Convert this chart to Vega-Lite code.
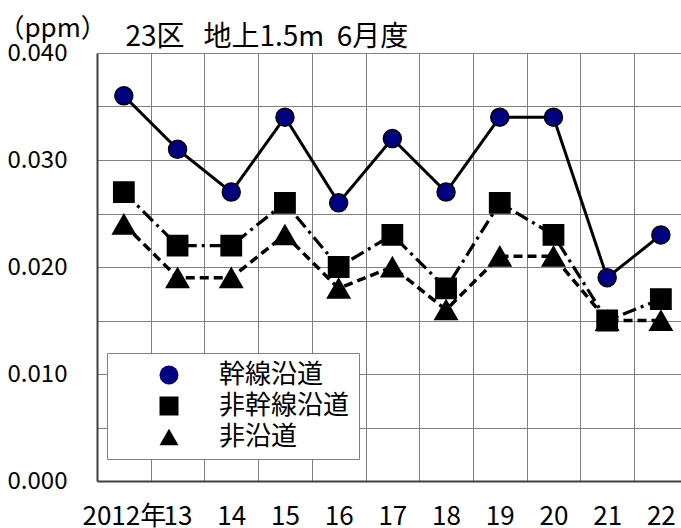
{
  "$schema": "https://vega.github.io/schema/vega-lite/v6.json",
  "width": 584,
  "height": 428,
  "autosize": {"type": "none"},
  "padding": {"left": 97, "top": 53, "right": 0, "bottom": 47},
  "background": "white",
  "config": {
    "font": "Noto Sans CJK JP",
    "view": {"stroke": null},
    "axis": {"labelFont": "Noto Sans CJK JP", "labelColor": "black", "titleColor": "black"}
  },
  "data": {
    "values": [
      {"year": 2012, "series": "幹線沿道", "value": 0.036},
      {"year": 2013, "series": "幹線沿道", "value": 0.031},
      {"year": 2014, "series": "幹線沿道", "value": 0.027},
      {"year": 2015, "series": "幹線沿道", "value": 0.034},
      {"year": 2016, "series": "幹線沿道", "value": 0.026},
      {"year": 2017, "series": "幹線沿道", "value": 0.032},
      {"year": 2018, "series": "幹線沿道", "value": 0.027},
      {"year": 2019, "series": "幹線沿道", "value": 0.034},
      {"year": 2020, "series": "幹線沿道", "value": 0.034},
      {"year": 2021, "series": "幹線沿道", "value": 0.019},
      {"year": 2022, "series": "幹線沿道", "value": 0.023},
      {"year": 2012, "series": "非幹線沿道", "value": 0.027},
      {"year": 2013, "series": "非幹線沿道", "value": 0.022},
      {"year": 2014, "series": "非幹線沿道", "value": 0.022},
      {"year": 2015, "series": "非幹線沿道", "value": 0.026},
      {"year": 2016, "series": "非幹線沿道", "value": 0.020},
      {"year": 2017, "series": "非幹線沿道", "value": 0.023},
      {"year": 2018, "series": "非幹線沿道", "value": 0.018},
      {"year": 2019, "series": "非幹線沿道", "value": 0.026},
      {"year": 2020, "series": "非幹線沿道", "value": 0.023},
      {"year": 2021, "series": "非幹線沿道", "value": 0.015},
      {"year": 2022, "series": "非幹線沿道", "value": 0.017},
      {"year": 2012, "series": "非沿道", "value": 0.024},
      {"year": 2013, "series": "非沿道", "value": 0.019},
      {"year": 2014, "series": "非沿道", "value": 0.019},
      {"year": 2015, "series": "非沿道", "value": 0.023},
      {"year": 2016, "series": "非沿道", "value": 0.018},
      {"year": 2017, "series": "非沿道", "value": 0.020},
      {"year": 2018, "series": "非沿道", "value": 0.016},
      {"year": 2019, "series": "非沿道", "value": 0.021},
      {"year": 2020, "series": "非沿道", "value": 0.021},
      {"year": 2021, "series": "非沿道", "value": 0.015},
      {"year": 2022, "series": "非沿道", "value": 0.015}
    ]
  },
  "resolve": {"axis": {"x": "independent"}},
  "layer": [
    {
      "mark": {"type": "line", "color": "black"},
      "encoding": {
        "x": {
          "field": "year", "type": "quantitative",
          "scale": {"domain": [2011.5, 2022.375], "nice": false, "zero": false},
          "axis": {
            "orient": "top",
            "title": "23区\u00a0\u00a0\u00a0地上1.5m\u00a0\u00a06月度",
            "titleX": 28, "titleY": -8, "titleAlign": "left", "titleAnchor": "start",
            "titleBaseline": "alphabetic", "titleFontSize": 28, "titleFontWeight": "normal",
            "titleFont": "Noto Sans CJK JP",
            "values": [2011.5, 2012.5, 2013.5, 2014.5, 2015.5, 2016.5, 2017.5, 2018.5, 2019.5, 2020.5, 2021.5],
            "grid": true, "gridColor": "#808080", "gridWidth": 1, "gridOpacity": 1,
            "labels": false, "ticks": false, "domain": false
          }
        },
        "y": {
          "field": "value", "type": "quantitative",
          "scale": {"domain": [0, 0.04], "nice": false, "zero": true},
          "axis": {
            "values": [0, 0.005, 0.01, 0.015, 0.02, 0.025, 0.03, 0.035, 0.04],
            "labelExpr": "abs(round(datum.value*200) % 2) == 0 ? format(datum.value, '.3f') : ''",
            "grid": true, "gridColor": "#808080", "gridWidth": 1, "gridOpacity": 1,
            "ticks": false,
            "domain": true, "domainColor": "#404040", "domainWidth": 2,
            "labelFontSize": 24, "labelPadding": 30, "labelAlign": "right", "labelBaseline": "middle",
            "title": "（ppm）", "titleAngle": 0, "titleX": -99, "titleY": -25,
            "titleAlign": "left", "titleBaseline": "middle",
            "titleFontSize": 26, "titleFontWeight": "normal", "titleFont": "Noto Sans CJK JP"
          }
        },
        "detail": {"field": "series"},
        "strokeDash": {
          "field": "series", "type": "nominal",
          "scale": {"domain": ["非沿道", "非幹線沿道", "幹線沿道"], "range": [[9, 5], [14, 5, 3, 5], [1, 0]]},
          "legend": null
        },
        "strokeWidth": {
          "field": "series", "type": "nominal",
          "scale": {"domain": ["非沿道", "非幹線沿道", "幹線沿道"], "range": [3.5, 3, 2]},
          "legend": null
        }
      }
    },
    {
      "mark": {"type": "point", "filled": true, "stroke": "black", "strokeWidth": 1.5, "opacity": 1},
      "encoding": {
        "x": {
          "field": "year", "type": "quantitative",
          "axis": {
            "orient": "bottom", "title": null,
            "values": [2012, 2013, 2014, 2015, 2016, 2017, 2018, 2019, 2020, 2021, 2022],
            "labelExpr": "datum.value == 2012 ? '2012年' : format(datum.value % 100, 'd')",
            "grid": false, "ticks": false,
            "domain": true, "domainColor": "#404040", "domainWidth": 2,
            "labelFontSize": 26, "labelPadding": 22, "labelBaseline": "top", "labelOverlap": false,
            "labelFlush": false
          }
        },
        "y": {"field": "value", "type": "quantitative"},
        "shape": {
          "field": "series", "type": "nominal",
          "scale": {"domain": ["幹線沿道", "非幹線沿道", "非沿道"], "range": ["circle", "square", "triangle-up"]},
          "legend": {
            "orient": "none", "legendX": 10, "legendY": 300,
            "title": null,
            "fillColor": "white", "strokeColor": "#808080",
            "padding": 9, "cornerRadius": 0,
            "symbolSize": 361, "symbolOffset": 40, "symbolStrokeColor": "#000000", "symbolStrokeWidth": 1.5,
            "symbolOpacity": 1,
            "labelFontSize": 26, "labelColor": "black", "labelFont": "Noto Sans CJK JP",
            "labelOffset": 37, "rowPadding": 5, "labelLimit": 300
          }
        },
        "fill": {
          "field": "series", "type": "nominal",
          "scale": {"domain": ["幹線沿道", "非幹線沿道", "非沿道"], "range": ["#000080", "#000000", "#000000"]},
          "legend": {
            "orient": "none", "legendX": 10, "legendY": 300,
            "title": null,
            "fillColor": "white", "strokeColor": "#808080",
            "padding": 9, "cornerRadius": 0,
            "symbolSize": 361, "symbolOffset": 40, "symbolStrokeColor": "#000000", "symbolStrokeWidth": 1.5,
            "symbolOpacity": 1,
            "labelFontSize": 26, "labelColor": "black", "labelFont": "Noto Sans CJK JP",
            "labelOffset": 37, "rowPadding": 5, "labelLimit": 300
          }
        },
        "size": {
          "field": "series", "type": "nominal",
          "scale": {"domain": ["非沿道", "非幹線沿道", "幹線沿道"], "range": [500, 324, 361]},
          "legend": null
        }
      }
    }
  ]
}
